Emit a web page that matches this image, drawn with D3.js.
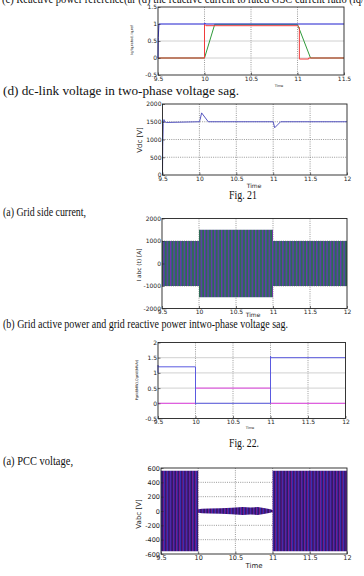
<!DOCTYPE html>
<html>
<head>
<meta charset="utf-8">
<script src="https://cdn.jsdelivr.net/npm/d3@7"></script>
<style>
  body { margin: 0; background: #fff; }
  svg { display: block; }
  .cap { font-family: "Liberation Serif", "DejaVu Serif", serif; fill: #111; }
  .tick text, .lbl { font-family: "DejaVu Sans", sans-serif; fill: #222; }
</style>
</head>
<body>
<div id="page"></div>
<script>
// ---- data ----
var xTicksA = [9.5, 10, 10.5, 11, 11.5];
var xTicksB = [9.5, 10, 10.5, 11, 11.5, 12];

// (d) reactive current ratio
var iqTicks = [-0.5, 0, 0.5, 1, 1.5];
var iqBlueT = [9.5, 9.503, 9.51, 10.0, 10.004, 10.012, 11.5];
var iqBlueV = [0, 0.6, 1.0, 1.0, 1.03, 1.0, 1.0];
var iqRedT = [9.5, 10.0, 10.0, 10.015, 11.0, 11.02, 11.02, 11.12, 11.12, 11.5];
var iqRedV = [0, 0, 1.0, 0.95, 0.95, 0.9, -0.03, -0.03, 0, 0];
var iqGreenT = [9.5, 10.0, 10.11, 11.0, 11.14, 11.5];
var iqGreenV = [0, 0, 0.99, 0.99, 0, 0];

// dc-link voltage
var vdcTicks = [0, 500, 1000, 1500, 2000];
var vdcT = [9.5, 9.503, 9.51, 9.52, 9.53, 9.55, 10.0, 10.01, 10.03, 10.12, 11.0, 11.02, 11.1, 12];
var vdcV = [0, 800, 1450, 1560, 1500, 1480, 1500, 1560, 1750, 1500, 1500, 1330, 1500, 1500];

// grid side current (envelope of the three phases)
var iTicks = [-2000, -1000, 0, 1000, 2000];
var iEnvT = [9.5, 10, 10, 11, 11, 12];
var iEnvA = [1000, 1000, 1500, 1500, 1000, 1000];

// grid active / reactive power
var pTicks = [-0.5, 0, 0.5, 1, 1.5, 2];
var pT = [9.5, 9.5, 9.505, 10.0, 10.0, 10.01, 10.01, 11.0, 11.0, 11.006, 11.02, 12];
var pV = [1.0, 1.25, 1.2, 1.2, -0.02, -0.02, 0, 0, 1.55, 1.5, 1.5, 1.5];
var qT = [9.5, 10.0, 10.0, 11.0, 11.0, 12];
var qV = [0, 0, 0.5, 0.5, 0, 0];

// PCC voltage (envelope)
var vTicks = [-600, -400, -200, 0, 200, 400, 600];
var vEnvT = [9.5, 10, 10, 10.05, 10.15, 10.3, 10.45, 10.6, 10.7, 10.8, 10.9, 10.97, 11, 11, 12];
var vEnvA = [560, 560, 25, 30, 35, 38, 45, 55, 50, 55, 40, 25, 15, 560, 560];

var W = 364, H = 576;
var svg = d3.select("#page").append("svg").attr("width", W).attr("height", H);

var defs = svg.append("defs");
// stripes to imitate the aliased three-phase waveforms
var pc = defs.append("pattern").attr("id", "curPat").attr("patternUnits", "userSpaceOnUse")
    .attr("width", 3.4).attr("height", 10);
pc.append("rect").attr("width", 3.4).attr("height", 10).attr("fill", "#2c6e4c");
pc.append("rect").attr("x", 0).attr("width", 1.2).attr("height", 10).attr("fill", "#7438a8");
pc.append("rect").attr("x", 1.2).attr("width", 0.6).attr("height", 10).attr("fill", "#3a48b8");
var pv = defs.append("pattern").attr("id", "volPat").attr("patternUnits", "userSpaceOnUse")
    .attr("width", 3.2).attr("height", 10);
pv.append("rect").attr("width", 3.2).attr("height", 10).attr("fill", "#34145e");
pv.append("rect").attr("x", 0).attr("width", 0.9).attr("height", 10).attr("fill", "#7c1a92");
pv.append("rect").attr("x", 0.9).attr("width", 0.9).attr("height", 10).attr("fill", "#3434c4");

function zip(ts, vs) { return ts.map(function (t, i) { return { t: t, v: vs[i] }; }); }

function panel(c) {
    var x = d3.scaleLinear().domain(c.xDom).range([c.left, c.right]);
    var y = d3.scaleLinear().domain(c.yDom).range([c.bottom, c.top]);
    var g = svg.append("g");

    // grid
    g.selectAll(".vg").data(c.xTicks.slice(1, -1)).enter().append("line")
        .attr("x1", function (d) { return x(d); }).attr("x2", function (d) { return x(d); })
        .attr("y1", c.top).attr("y2", c.bottom)
        .attr("stroke", "#555").attr("stroke-width", 0.6).attr("stroke-dasharray", "1,1.2");
    g.selectAll(".hg").data(c.yTicks.slice(1, -1)).enter().append("line")
        .attr("x1", c.left).attr("x2", c.right)
        .attr("y1", function (d) { return y(d); }).attr("y2", function (d) { return y(d); })
        .attr("stroke", c.hSolid ? "#c4c4c4" : "#555")
        .attr("stroke-width", c.hSolid ? 0.8 : 0.6)
        .attr("stroke-dasharray", c.hSolid ? null : "1,1.2");

    var plot = g.append("g");
    if (c.band) {
        var area = d3.area()
            .x(function (d) { return x(d.t); })
            .y0(function (d) { return y(-d.v); })
            .y1(function (d) { return y(d.v); });
        plot.append("path").datum(zip(c.band.t, c.band.a))
            .attr("d", area).attr("fill", c.band.fill);
    }
    var line = d3.line().x(function (d) { return x(d.t); }).y(function (d) { return y(d.v); });
    (c.series || []).forEach(function (s) {
        plot.append("path").datum(zip(s.t, s.v))
            .attr("d", line).attr("fill", "none")
            .attr("stroke", s.color).attr("stroke-width", 1);
    });

    // frame
    g.append("rect").attr("x", c.left).attr("y", c.top)
        .attr("width", c.right - c.left).attr("height", c.bottom - c.top)
        .attr("fill", "none").attr("stroke", "#222").attr("stroke-width", 0.9);

    var fmt = function (d) { return String(d); };
    var ax = g.append("g").attr("transform", "translate(0," + c.bottom + ")")
        .call(d3.axisBottom(x).tickValues(c.xTicks).tickFormat(fmt).tickSize(-2.5).tickPadding(c.xPad));
    var ay = g.append("g").attr("transform", "translate(" + c.left + ",0)")
        .call(d3.axisLeft(y).tickValues(c.yTicks).tickFormat(fmt).tickSize(-2.5).tickPadding(c.yPad));
    [ax, ay].forEach(function (a) {
        a.select(".domain").remove();
        a.selectAll(".tick line").attr("stroke", "#222").attr("stroke-width", 0.6);
        a.selectAll(".tick text").style("font-size", c.fs + "px");
    });

    // axis titles
    g.append("text").attr("class", "lbl")
        .attr("x", c.xt[0]).attr("y", c.xt[1]).attr("text-anchor", "middle")
        .style("font-size", c.xt[2] + "px").text("Time");
    g.append("text").attr("class", "lbl")
        .attr("transform", "translate(" + c.yt[0] + "," + c.yt[1] + ") rotate(-90)")
        .attr("text-anchor", "middle")
        .style("font-size", c.yt[2] + "px").text(c.yLabel);
}

// captions
function cap(txt, x, y, fs, len) {
    var t = svg.append("text").attr("class", "cap").attr("x", x).attr("y", y)
        .style("font-size", fs + "px").text(txt);
    if (len) t.attr("textLength", len).attr("lengthAdjust", "spacingAndGlyphs");
}
cap("(c) Reactive power reference(ar (d) the reactive current to rated GSC current ratio (iq/", 2, 3, 11.5, 362);
cap("(d) dc-link voltage in two-phase voltage sag.", 3, 95, 11.5, 236);
cap("Fig. 21", 229, 198.5, 11.5, 28);
cap("(a) Grid side current,", 3, 216, 11.5, 83);
cap("(b) Grid active power and grid reactive power intwo-phase voltage sag.", 3, 327.5, 11.5, 285);
cap("Fig. 22.", 229, 447, 11.5, 30);
cap("(a) PCC voltage,", 3, 464.5, 11.5, 70);

panel({
    left: 158, right: 344, top: 7, bottom: 75,
    xDom: [9.5, 11.5], yDom: [-0.5, 1.5], xTicks: xTicksA, yTicks: iqTicks,
    hSolid: true, fs: 6, xPad: 1.5, yPad: 1,
    xt: [279, 86.5, 3.5], yt: [133, 40, 3.5], yLabel: "Iq/Iq,rated, Iq,ref",
    series: [
        { t: iqGreenT, v: iqGreenV, color: "#2f9a3a" },
        { t: iqRedT, v: iqRedV, color: "#f03c3c" },
        { t: iqBlueT, v: iqBlueV, color: "#3434e6" }
    ]
});

panel({
    left: 162.5, right: 347, top: 104, bottom: 175,
    xDom: [9.5, 12], yDom: [0, 2000], xTicks: xTicksB, yTicks: vdcTicks,
    hSolid: false, fs: 6, xPad: 1.5, yPad: 1,
    xt: [254, 188, 6], yt: [142, 140, 7], yLabel: "Vdc [V]",
    series: [{ t: vdcT, v: vdcV, color: "#5656c0" }]
});

panel({
    left: 162, right: 347, top: 218.5, bottom: 308.5,
    xDom: [9.5, 12], yDom: [-2000, 2000], xTicks: xTicksB, yTicks: iTicks,
    hSolid: false, fs: 6, xPad: 1.5, yPad: 1,
    xt: [253, 317, 6], yt: [141, 265, 5.8], yLabel: "I abc (t) [A]",
    band: { t: iEnvT, a: iEnvA, fill: "url(#curPat)" }
});

panel({
    left: 158, right: 345.5, top: 342.5, bottom: 418.5,
    xDom: [9.5, 12], yDom: [-0.5, 2], xTicks: xTicksB, yTicks: pTicks,
    hSolid: true, fs: 6, xPad: 1.5, yPad: 1,
    xt: [250, 428.5, 3.5], yt: [138, 380, 3.5], yLabel: "Pgrid(MW),Qgrid(MVAr)",
    series: [
        { t: qT, v: qV, color: "#e040e0" },
        { t: pT, v: pV, color: "#5a5ae0" }
    ]
});

panel({
    left: 161, right: 347, top: 468, bottom: 554,
    xDom: [9.5, 12], yDom: [-600, 600], xTicks: xTicksB, yTicks: vTicks,
    hSolid: false, fs: 6.5, xPad: 1.5, yPad: 1,
    xt: [254, 567.5, 7], yt: [141, 514, 7], yLabel: "Vabc [V]",
    band: { t: vEnvT, a: vEnvA, fill: "url(#volPat)" }
});
</script>
</body>
</html>
